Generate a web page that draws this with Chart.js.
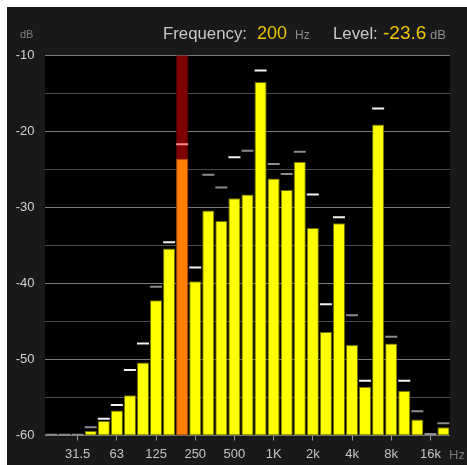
<!DOCTYPE html>
<html>
<head>
<meta charset="utf-8">
<script src="https://cdn.jsdelivr.net/npm/chart.js@4/dist/chart.umd.min.js"></script>
<style>
  html, body { margin: 0; padding: 0; background: #ffffff; }
  #wrap { position: absolute; left: 7px; top: 7px; width: 460px; height: 458px; background: #191919; }
  canvas { display: block; }
</style>
</head>
<body>
<div id="wrap"><canvas id="c" width="460" height="458"></canvas></div>
<script>
// ---- data ----
const bands = ['20','25','31.5','40','50','63','80','100','125','160','200','250','315','400','500','630','800','1K','1.25k','1.6k','2k','2.5k','3.15k','4k','5k','6.3k','8k','10k','12.5k','16k','20k'];
const tickLabels = ['31.5','63','125','250','500','1K','2k','4k','8k','16k'];
const levels = [-60,-60,-60,-59.4,-58.1,-56.7,-54.7,-50.4,-42.2,-35.4,-23.6,-39.7,-30.4,-31.8,-28.8,-28.3,-13.5,-26.2,-27.7,-24.0,-32.7,-46.4,-32.1,-48.1,-53.6,-19.1,-47.9,-54.1,-57.9,-60,-58.9];
const peaks  = [-59.9,-59.9,-59.9,-58.9,-57.8,-56.0,-51.4,-47.9,-40.45,-34.6,-21.7,-37.9,-25.7,-27.4,-23.4,-22.55,-12.0,-24.3,-25.6,-22.7,-28.3,-42.75,-31.3,-44.2,-52.8,-17.0,-47.0,-52.8,-56.8,-59.8,-58.4];
const selectedBand = '200';
const selectedLevel = '-23.6';
const yMin = -60, yMax = -10;

// ---- styles ----
const peakBright = [0,0,0,0,1,1,1,1,0,1,2,1,0,0,1,0,1,0,0,0,1,1,1,0,1,1,0,1,0,0,0];
const peakColors = ['#8c8c8c', '#f2f2f2', '#ff8a8a'];
const FONT = '"Liberation Sans", Arial, Helvetica, sans-serif';
const selIdx = bands.indexOf(selectedBand);

const bgPlugin = {
  id: 'bg',
  beforeDraw(chart) {
    const {ctx, chartArea: a} = chart;
    ctx.save();
    ctx.fillStyle = '#000000';
    ctx.fillRect(a.left, a.top, a.right - a.left, a.bottom - a.top);
    ctx.restore();
  },
  afterDraw(chart) {
    const ctx = chart.ctx;
    ctx.save();
    ctx.textBaseline = 'alphabetic';
    ctx.textAlign = 'left';
    const put = (t, x, y, size, color) => { ctx.font = size + 'px ' + FONT; ctx.fillStyle = color; ctx.fillText(t, x, y); };
    put('dB', 13, 31.3, 11, '#7d7d7d');
    put('Frequency:', 156, 32, 16.8, '#c8c8c8');
    put(selectedBand, 250, 32, 18, '#e8c400');
    put('Hz', 288, 32, 12, '#8a8a8a');
    put('Level:', 326, 32, 16.8, '#c8c8c8');
    put(selectedLevel, 376, 32, 19, '#f0c400');
    put('dB', 423, 31.5, 13, '#8a8a8a');
    put('Hz', 442, 452, 13, '#777777');
    ctx.restore();
  }
};

new Chart(document.getElementById('c'), {
  type: 'bar',
  data: {
    labels: bands,
    datasets: [
      {
        label: 'selected',
        data: bands.map((b, i) => i === selIdx ? [yMin, yMax] : null),
        backgroundColor: '#7f0000',
        borderColor: '#5c0000',
        borderWidth: 1,
        grouped: false,
        barPercentage: 0.93,
        categoryPercentage: 1,
        order: 3
      },
      {
        label: 'level',
        data: levels.map(v => [yMin, v]),
        backgroundColor: (c) => c.dataIndex === selIdx ? '#ff8000' : '#ffff00',
        borderColor: (c) => c.dataIndex === selIdx ? '#a04c00' : '#6e6e00',
        borderWidth: 1,
        borderSkipped: false,
        grouped: false,
        barPercentage: 0.93,
        categoryPercentage: 1,
        order: 2
      },
      {
        label: 'peak',
        type: 'line',
        data: peaks,
        showLine: false,
        pointStyle: 'line',
        pointRadius: 6,
        pointHoverRadius: 6,
        pointBorderWidth: 2,
        pointBorderColor: peakBright.map(k => peakColors[k]),
        pointBackgroundColor: peakBright.map(k => peakColors[k]),
        order: 1
      }
    ]
  },
  options: {
    responsive: false,
    animation: false,
    devicePixelRatio: 1,
    layout: { padding: { top: 48.3, right: 17, left: 0, bottom: 0 } },
    plugins: { legend: { display: false }, tooltip: { enabled: false } },
    scales: {
      x: {
        offset: true,
        afterFit: (s) => { s.height = 29.5; },
        border: { display: false },
        grid: {
          offset: false,
          drawOnChartArea: false,
          drawTicks: true,
          tickLength: 5,
          tickWidth: 1,
          color: 'transparent',
          tickColor: (c) => tickLabels.includes(bands[c.index]) ? '#9a9a9a' : 'transparent'
        },
        ticks: {
          autoSkip: false,
          maxRotation: 0,
          padding: 6,
          color: '#c4c4c4',
          font: { family: FONT, size: 13 },
          callback: (v, i) => tickLabels.includes(bands[i]) ? bands[i] : ''
        }
      },
      y: {
        min: yMin,
        max: yMax,
        afterFit: (s) => { s.width = 38; },
        border: { display: false },
        grid: {
          drawTicks: false,
          lineWidth: 1,
          color: (c) => (c.tick && c.tick.value % 10 === 0) ? '#7a7a7a' : '#4c4c4c'
        },
        ticks: {
          stepSize: 5,
          padding: 10.5,
          color: '#d0d0d0',
          font: { family: FONT, size: 13 },
          callback: (v) => v % 10 === 0 ? String(v) : ''
        }
      }
    }
  },
  plugins: [bgPlugin]
});
</script>
</body>
</html>
